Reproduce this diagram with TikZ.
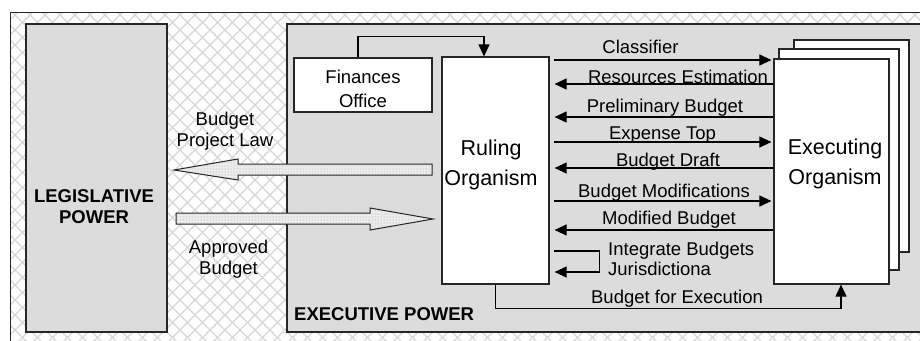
\documentclass[tikz,border=0pt]{standalone}
\usepackage{fontspec}
\setmainfont{Liberation Sans}
\usetikzlibrary{arrows.meta,patterns}
\definecolor{boxgray}{RGB}{220,220,220}
\definecolor{hatchgray}{RGB}{214,214,214}
\definecolor{arrfill}{RGB}{236,236,236}
\begin{document}
\begin{tikzpicture}[x=1pt,y=-1pt,
  lbl/.style={font=\fontsize{18.5}{21}\selectfont, inner sep=0, anchor=base, align=center},
  bigtxt/.style={font=\fontsize{21.5}{30}\selectfont, inner sep=0, anchor=base, align=center},
  boldtxt/.style={font=\fontsize{18.5}{21}\selectfont\bfseries, inner sep=0, anchor=base, align=center},
  box/.style={draw=black!85, line width=1.2pt, fill=white, inner sep=0, rectangle},
  arr/.style={line width=1.1pt, -{Triangle[length=12pt,width=11pt]}},
  bigarr/.style={draw=black!85, line width=1pt, preaction={fill=arrfill}, pattern=dots, pattern color=black!35}
]
\useasboundingbox (0,0) rectangle (920,340);
\fill[white] (0,0) rectangle (920,340);
\begin{scope}
  \clip (10,12) rectangle (925,345);
  \foreach \c in {-360,-345,...,1290} {
    \draw[hatchgray, line width=1.3pt] (\c,0) -- ++(360,360);
    \draw[hatchgray, line width=1.3pt] (\c,0) -- ++(-360,360);
  }
\end{scope}
\draw[black!85, line width=1pt] (10,12) rectangle (925,345);

% main boxes
\node[box, fill=boxgray, minimum width=141, minimum height=308] (leg) at (96.5,178) {};
\node[box, fill=boxgray, minimum width=643, minimum height=308] (exe) at (608.5,178) {};
\node[box, minimum width=138, minimum height=54] (fin) at (363,85) {};
\node[box, minimum width=107, minimum height=227] (rul) at (495.5,170.5) {};
\node[box, minimum width=115, minimum height=212] (back) at (851.5,146) {};
\node[box, minimum width=120, minimum height=221] (mid) at (839,159.5) {};
\node[box, minimum width=115, minimum height=225] (front) at (831.5,171.5) {};

% texts in boxes (base = baseline of the last line)
\node[boldtxt] (legt) at (94,223) {LEGISLATIVE\\POWER};
\node[boldtxt, anchor=base west] (exet) at (294,320) {EXECUTIVE POWER};
\node[lbl, font=\fontsize{18.5}{24}\selectfont] (fint) at (363,107) {Finances\\Office};
\node[bigtxt] (rult) at (491,185) {Ruling\\Organism};
\node[bigtxt] (exct) at (835,184) {Executing\\Organism};

% big arrows
\draw[bigarr] (432,164) -- (238,164) -- (238,159) -- (174,170) -- (238,180) -- (238,175) -- (432,175) -- cycle;
\draw[bigarr] (176,213) -- (370,213) -- (370,208) -- (433,219) -- (370,230) -- (370,224) -- (176,224) -- cycle;
\node[lbl] (bpl) at (225,146) {Budget\\Project Law};
\node[lbl] (ab) at (228.5,274) {Approved\\Budget};

% finances -> ruling
\draw[arr] ([xshift=-5]fin.north) -- ++(0,-21) -| ([xshift=-11.5]rul.north);

% arrows between ruling and executing
\draw[arr, shorten <=4, shorten >=2] (rul.east |- 0,60) -- (front.west |- 0,60);
\draw[arr, shorten >=5] (front.west |- 0,84) -- (rul.east |- 0,84);
\draw[arr, shorten >=5] (front.west |- 0,117) -- (rul.east |- 0,117);
\draw[arr, shorten <=4, shorten >=2] (rul.east |- 0,142) -- (front.west |- 0,142);
\draw[arr, shorten >=5] (front.west |- 0,168) -- (rul.east |- 0,168);
\draw[arr, shorten <=4, shorten >=2] (rul.east |- 0,201) -- (front.west |- 0,201);
\draw[arr, shorten >=5] (front.west |- 0,230) -- (rul.east |- 0,230);
\draw[arr] ([xshift=4]rul.east |- 0,251) -- ++(46,0) |- ([xshift=5]rul.east |- 0,272);
\draw[arr] (rul.south) -- ++(0,24) -| ([xshift=9.5]front.south);

\node[lbl] (l1) at (640.5,53) {Classifier};
\node[lbl] (l2) at (678,83) {Resources Estimation};
\node[lbl] (l3) at (665,112) {Preliminary Budget};
\node[lbl] (l4) at (662.5,139.5) {Expense Top};
\node[lbl] (l5) at (668,166) {Budget Draft};
\node[lbl] (l6) at (664,197) {Budget Modifications};
\node[lbl] (l7) at (669,224) {Modified Budget};
\node[lbl, anchor=base west, align=left, font=\fontsize{18.5}{20}\selectfont] (l8) at (608,275) {Integrate Budgets\\Jurisdictiona};
\node[lbl] (l9) at (677,303) {Budget for Execution};
\end{tikzpicture}
\end{document}
